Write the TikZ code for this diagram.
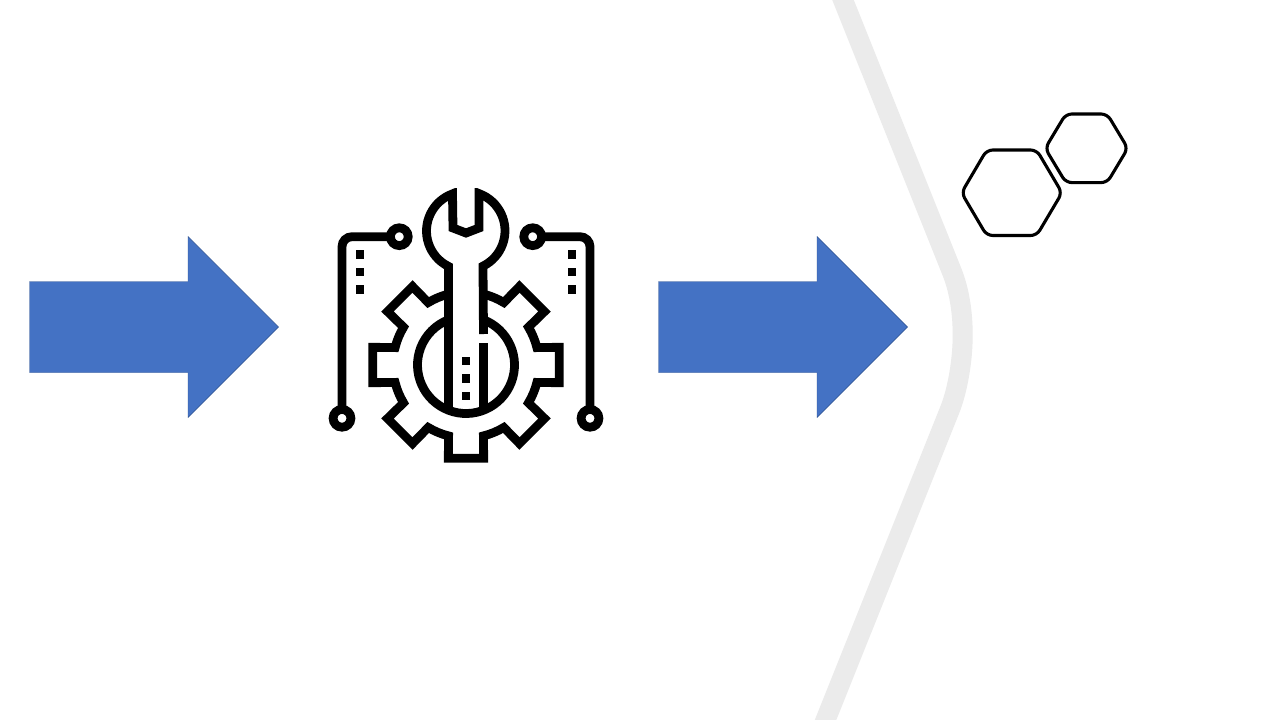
\documentclass[tikz,border=0pt]{standalone}
\definecolor{arrowblue}{HTML}{4472C4}
\definecolor{arrowedge}{HTML}{2F528F}
\definecolor{chevgrey}{HTML}{EBEBEB}
\tikzset{
  bluearrow/.style={fill=arrowblue,draw=arrowedge,line width=0.4pt,line join=miter},
  icon/.style={draw=black,line width=8.8pt,line cap=butt,line join=miter,miter limit=10},
  dotsq/.style={fill=black,draw=none},
  hexa/.style={draw=black,line width=3.1pt,rounded corners=6pt}
}
\newcommand{\blockarrow}[1]{%
  \path[bluearrow,xshift=#1pt] (29.5,281.5) -- (188,281.5) -- (188,236.5) -- (278.5,327) -- (188,417.5) -- (188,372.5) -- (29.5,372.5) -- cycle;}
\newcommand{\sqdot}[2]{\fill[dotsq] (#1-4.4,#2-4.4) rectangle (#1+4.4,#2+4.4);}
\begin{document}
\begin{tikzpicture}[x=1pt,y=1pt,yscale=-1]
\useasboundingbox (0,0) rectangle (1280,720);
\fill[white] (0,0) rectangle (1280,720);
% grey chevron
\begin{scope}
\clip (0,0) rectangle (1280,720);
\draw[chevgrey,line width=20pt,line cap=butt]
  (835,-20) -- (952,272) .. controls (960,292) and (962.7,315) .. (962.7,335)
  .. controls (962.7,360) and (957.7,390) .. (949.7,410) -- (817.5,740);
\end{scope}
% block arrows
\blockarrow{0}
\blockarrow{629}
% circuit traces
\draw[icon] (390.4,236.7) -- (352,236.7) arc (270:180:10) -- (342,409.4);
\draw[icon] (541.6,236.7) -- (580,236.7) arc (270:360:10) -- (590,409.4);
\draw[icon] (399.3,236.7) circle (8.9);
\draw[icon] (532.7,236.7) circle (8.9);
\draw[icon] (342,418.3) circle (8.9);
\draw[icon] (590,418.3) circle (8.9);
\sqdot{360}{254.3}\sqdot{360}{272}\sqdot{360}{289.5}
\sqdot{572}{254.3}\sqdot{572}{272}\sqdot{572}{289.5}
% gear
\begin{scope}[shift={(466,365)}]
\draw[icon] (-76.2:73) arc (-76.2:-58.8:73)
  \foreach \t in {-45,0,45,90,135,180,225}{
    -- ({\t-10.74}:95) -- ({\t+10.74}:95) -- ({\t+13.8}:73)
    arc ({\t+13.8}:{\t+31.2}:73)
  };
\draw[icon] (-69:48.5) arc (-69:249:48.5);
\end{scope}
% wrench
\draw[icon] (448.5,408) -- (448.5,266.4)
  arc (116.3:250:39.5) -- (453,228) -- (466,233) -- (479,228) -- (479,193.6)
  arc (-70:63.7:39.5) -- (483.5,334);
\draw[icon] (483.5,343) -- (483.5,408);
\fill[white] (479,178) rectangle (453,188);
\sqdot{466}{361}\sqdot{466}{378.5}\sqdot{466}{396}
% hexagons
\draw[hexa] (961.5,192.8) -- (986.7,150) -- (1036.7,150) -- (1062,192.8) -- (1036.7,235.5) -- (986.7,235.5) -- cycle;
\draw[hexa] (1045.2,148.3) -- (1065.8,114) -- (1107.2,114) -- (1127.8,148.3) -- (1107.2,182.6) -- (1065.8,182.6) -- cycle;
\end{tikzpicture}
\end{document}
